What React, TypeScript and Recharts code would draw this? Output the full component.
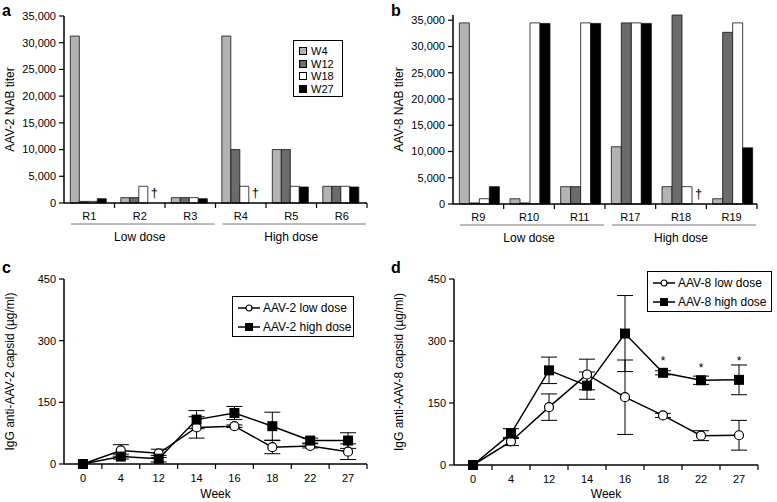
import React from "react";
import {
  BarChart,
  Bar,
  XAxis,
  YAxis,
  Legend,
  LabelList,
  ComposedChart,
  Line,
  ErrorBar,
} from "recharts";

const FONT = "'Liberation Sans', Arial, Helvetica, sans-serif";

// panel a - AAV-2 NAB titers
const monkeysA = ["R1", "R2", "R3", "R4", "R5", "R6"];
const aW4 = [31250, 1000, 1000, 31250, 10000, 3125];
const aW12 = [300, 1000, 1000, 10000, 10000, 3125];
const aW18 = [300, 3125, 1000, 3125, 3125, 3125];
const aW27 = [800, 0, 800, 0, 3000, 3000];
const aDagger = [false, true, false, true, false, false];

// panel b - AAV-8 NAB titers
const monkeysB = ["R9", "R10", "R11", "R17", "R18", "R19"];
const bW4 = [34500, 1000, 3300, 10900, 3300, 1000];
const bW12 = [200, 200, 3300, 34500, 36000, 32700];
const bW18 = [1000, 34500, 34500, 34500, 3300, 34500];
const bW27 = [3300, 34400, 34400, 34400, 0, 10700];
const bDagger = [false, false, false, false, true, false];

const doseGroups = ["Low dose", "High dose"];
const weekKeys = ["W4", "W12", "W18", "W27"];
const weekFills = ["#b3b3b3", "#6b6b6b", "#ffffff", "#000000"];
const nabTicks = [0, 5000, 10000, 15000, 20000, 25000, 30000, 35000];

// panels c, d - IgG anti-capsid
const weeks = ["0", "4", "12", "14", "16", "18", "22", "27"];
const cLow = [0, 33, 26, 89, 92, 41, 44, 30];
const cLowErr = [0, 14, 10, 26, 3, 16, 5, 19];
const cHigh = [0, 18, 13, 108, 124, 92, 57, 57];
const cHighErr = [0, 6, 8, 22, 16, 34, 6, 19];

const dLow = [0, 57, 140, 219, 164, 120, 71, 72];
const dLowErr = [0, 10, 32, 37, 90, 5, 12, 36];
const dHigh = [0, 76, 229, 192, 318, 223, 205, 206];
const dHighErr = [0, 12, 32, 33, 92, 5, 10, 36];
const dStar = [null, null, null, null, null, 258, 243, 260];

const igTicks = [0, 150, 300, 450];

const tickStyle = { fontSize: 11, fill: "#000", fontFamily: FONT };

function barTick(band: number) {
  return (p: any) => {
    const { x, y, payload, index } = p;
    const g = index === 1 ? 0 : index === 4 ? 1 : -1;
    return (
      <g>
        <line x1={x + band / 2} x2={x + band / 2} y1={y} y2={y + 5} stroke="#000" strokeWidth={1.2} />
        <text x={x} y={y + 17} textAnchor="middle" {...tickStyle}>
          {payload.value}
        </text>
        {g >= 0 && (
          <g>
            <line x1={x - 1.5 * band + 7} x2={x + 1.5 * band - 1} y1={y + 21} y2={y + 21} stroke="#777" strokeWidth={1} />
            <text x={x} y={y + 38} textAnchor="middle" fontSize={12} fill="#000" fontFamily={FONT}>
              {doseGroups[g]}
            </text>
          </g>
        )}
      </g>
    );
  };
}

function weekTick(band: number) {
  return (p: any) => {
    const { x, y, payload } = p;
    return (
      <g>
        <line x1={x + band / 2} x2={x + band / 2} y1={y} y2={y + 5} stroke="#000" strokeWidth={1.2} />
        <text x={x} y={y + 18} textAnchor="middle" {...tickStyle}>
          {payload.value}
        </text>
      </g>
    );
  };
}

function BarLegend() {
  return (
    <div style={{ border: "1px solid #000", width: 50, height: 57, boxSizing: "border-box", padding: "4px 0 0 5px", background: "#fff" }}>
      {weekKeys.map((k, i) => (
        <div key={k} style={{ display: "flex", alignItems: "center", height: 12.5, fontSize: 11, fontFamily: FONT, color: "#000" }}>
          <span style={{ display: "inline-block", width: 8, height: 8, background: weekFills[i], border: "1px solid #000", marginRight: 4, boxSizing: "border-box" }} />
          {k}
        </div>
      ))}
    </div>
  );
}

function LineLegend({ names, width }: { names: string[]; width: number }) {
  return (
    <div style={{ border: "1px solid #000", width, height: 41, boxSizing: "border-box", padding: "1px 0 0 5px", background: "#fff" }}>
      {names.map((n, i) => (
        <div key={n} style={{ display: "flex", alignItems: "center", height: 19, fontSize: 12, fontFamily: FONT, color: "#000", whiteSpace: "nowrap" }}>
          <svg width={22} height={12} style={{ marginRight: 3, flex: "none" }}>
            <line x1={0} x2={22} y1={6} y2={6} stroke="#000" strokeWidth={1.5} />
            {i === 0 ? (
              <circle cx={11} cy={6} r={3} fill="#fff" stroke="#000" strokeWidth={1.2} />
            ) : (
              <rect x={7} y={2} width={8} height={8} fill="#000" />
            )}
          </svg>
          {n}
        </div>
      ))}
    </div>
  );
}

function NabPanel(props: {
  names: string[];
  w4: number[];
  w12: number[];
  w18: number[];
  w27: number[];
  dagger: boolean[];
  yLabel: string;
  letter: string;
  left: number;
  top: number;
  yMax: number;
  xHeight: number;
  yWidth: number;
  right: number;
  legend: boolean;
}) {
  const W = 388;
  const H = 250;
  const data = props.names.map((n, i) => ({
    name: n,
    W4: props.w4[i],
    W12: props.w12[i],
    W18: props.w18[i],
    W27: props.w27[i],
  }));
  const band = (W - props.yWidth - props.right) / props.names.length;
  return (
    <div style={{ position: "absolute", left: props.left, top: 0, width: W, height: H }}>
      <div style={{ position: "absolute", left: 2, top: 2, fontSize: 16, fontWeight: "bold", fontFamily: FONT }}>{props.letter}</div>
      <BarChart
        width={W}
        height={H}
        data={data}
        margin={{ top: props.top, right: props.right, bottom: 0, left: 0 }}
        barCategoryGap="12.5%"
        barGap={0}
      >
        <XAxis
          dataKey="name"
          height={props.xHeight}
          interval={0}
          tickSize={0}
          tickMargin={0}
          tickLine={false}
          axisLine={{ stroke: "#000", strokeWidth: 1.5 }}
          tick={barTick(band)}
        />
        <YAxis
          width={props.yWidth}
          domain={[0, props.yMax]}
          ticks={nabTicks}
          interval={0}
          tickSize={5}
          tickMargin={3}
          tickFormatter={(v: number) => v.toLocaleString("en-US")}
          tick={tickStyle}
          tickLine={{ stroke: "#000", strokeWidth: 1.2 }}
          axisLine={{ stroke: "#000", strokeWidth: 1.5 }}
          label={{ value: props.yLabel, angle: -90, position: "insideLeft", offset: 10, style: { textAnchor: "middle", fontSize: 12, fill: "#000", fontFamily: FONT } }}
        />
        {props.legend && (
          <Legend
            layout="vertical"
            align="center"
            verticalAlign="middle"
            wrapperStyle={{ left: 293, top: 40, width: 50 }}
            content={() => <BarLegend />}
          />
        )}
        {weekKeys.map((k, i) => (
          <Bar key={k} dataKey={k} fill={weekFills[i]} stroke="#111" strokeWidth={0.8} isAnimationActive={false}>
            {i === 2 && (
              <LabelList
                dataKey={k}
                content={(lp: any) =>
                  props.dagger[lp.index] ? (
                    <text x={lp.x + lp.width + 3} y={lp.y + 11} fontSize={13} fill="#000" fontFamily={FONT}>
                      †
                    </text>
                  ) : null
                }
              />
            )}
          </Bar>
        ))}
      </BarChart>
    </div>
  );
}

function IgPanel(props: {
  low: number[];
  lowErr: number[];
  high: number[];
  highErr: number[];
  star: (number | null)[] | null;
  yLabel: string;
  letter: string;
  left: number;
  yWidth: number;
  right: number;
  xHeight: number;
  legendNames: string[];
  legendPos: { left: number; top: number; width: number };
}) {
  const W = 388;
  const H = 252;
  const data = weeks.map((w, i) => ({
    week: w,
    low: props.low[i],
    lowErr: props.lowErr[i],
    high: props.high[i],
    highErr: props.highErr[i],
    star: props.star ? props.star[i] : null,
  }));
  const band = (W - props.yWidth - props.right) / weeks.length;
  return (
    <div style={{ position: "absolute", left: props.left, top: 250, width: W, height: H }}>
      <div style={{ position: "absolute", left: 2, top: 9, fontSize: 16, fontWeight: "bold", fontFamily: FONT }}>{props.letter}</div>
      <ComposedChart width={W} height={H} data={data} margin={{ top: 29, right: props.right, bottom: 0, left: 0 }}>
        <XAxis
          dataKey="week"
          scale="band"
          height={props.xHeight}
          interval={0}
          tickSize={0}
          tickMargin={0}
          tickLine={false}
          axisLine={{ stroke: "#000", strokeWidth: 1.5 }}
          tick={weekTick(band)}
          label={{ value: "Week", position: "insideBottom", offset: 4, style: { fontSize: 12, fill: "#000", fontFamily: FONT } }}
        />
        <YAxis
          width={props.yWidth}
          domain={[0, 450]}
          ticks={igTicks}
          interval={0}
          tickSize={5}
          tickMargin={3}
          tick={tickStyle}
          tickLine={{ stroke: "#000", strokeWidth: 1.2 }}
          axisLine={{ stroke: "#000", strokeWidth: 1.5 }}
          label={{ value: props.yLabel, angle: -90, position: "insideLeft", offset: 10, style: { textAnchor: "middle", fontSize: 12, fill: "#000", fontFamily: FONT } }}
        />
        <Legend
          layout="vertical"
          align="center"
          verticalAlign="middle"
          wrapperStyle={{ left: props.legendPos.left, top: props.legendPos.top, width: props.legendPos.width }}
          content={() => <LineLegend names={props.legendNames} width={props.legendPos.width} />}
        />
        <Line
          dataKey="low"
          stroke="#000"
          strokeWidth={1.5}
          isAnimationActive={false}
          dot={{ r: 4.5, fill: "#fff", stroke: "#000", strokeWidth: 1.2 }}
        >
          <ErrorBar dataKey="lowErr" width={8} stroke="#000" strokeWidth={1} />
        </Line>
        <Line
          dataKey="high"
          stroke="#000"
          strokeWidth={1.5}
          isAnimationActive={false}
          dot={(p: any) =>
            p.cx == null || p.cy == null ? (
              <g key={`s${p.index}`} />
            ) : (
              <rect key={`s${p.index}`} x={p.cx - 5} y={p.cy - 5} width={10} height={10} fill="#000" />
            )
          }
        >
          <ErrorBar dataKey="highErr" width={8} stroke="#000" strokeWidth={1} />
        </Line>
        {props.star && (
          <Line
            dataKey="star"
            stroke="none"
            isAnimationActive={false}
            connectNulls={false}
            dot={(p: any) =>
              p.cx == null || p.cy == null || p.value == null ? (
                <g key={`t${p.index}`} />
              ) : (
                <text key={`t${p.index}`} x={p.cx} y={p.cy + 7} textAnchor="middle" fontSize={12} fill="#000" fontFamily={FONT}>
                  *
                </text>
              )
            }
            activeDot={false}
          />
        )}
      </ComposedChart>
    </div>
  );
}

export default function App() {
  return (
    <div style={{ position: "absolute", left: 0, top: 0, width: 777, height: 502, background: "#fff", overflow: "hidden" }}>
      <NabPanel
        names={monkeysA}
        w4={aW4}
        w12={aW12}
        w18={aW18}
        w27={aW27}
        dagger={aDagger}
        yLabel="AAV-2 NAB titer"
        letter="a"
        left={0}
        top={16}
        yMax={35000}
        xHeight={47}
        yWidth={64}
        right={21}
        legend={true}
      />
      <NabPanel
        names={monkeysB}
        w4={bW4}
        w12={bW12}
        w18={bW18}
        w27={bW27}
        dagger={bDagger}
        yLabel="AAV-8 NAB titer"
        letter="b"
        left={389}
        top={15}
        yMax={36000}
        xHeight={46}
        yWidth={64}
        right={20}
        legend={false}
      />
      <IgPanel
        low={cLow}
        lowErr={cLowErr}
        high={cHigh}
        highErr={cHighErr}
        star={null}
        yLabel="IgG anti-AAV-2 capsid (µg/ml)"
        letter="c"
        left={0}
        yWidth={64}
        right={21}
        xHeight={38}
        legendNames={["AAV-2 low dose", "AAV-2 high dose"]}
        legendPos={{ left: 232, top: 46, width: 122 }}
      />
      <IgPanel
        low={dLow}
        lowErr={dLowErr}
        high={dHigh}
        highErr={dHighErr}
        star={dStar}
        yLabel="IgG anti-AAV-8 capsid (µg/ml)"
        letter="d"
        left={389}
        yWidth={65}
        right={19}
        xHeight={37}
        legendNames={["AAV-8 low dose", "AAV-8 high dose"]}
        legendPos={{ left: 258, top: 21, width: 125 }}
      />
    </div>
  );
}
